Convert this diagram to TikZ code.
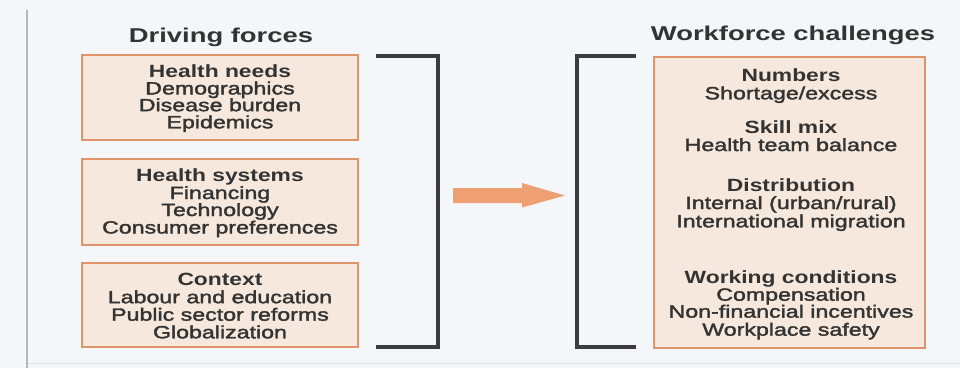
\documentclass[tikz,border=0pt]{standalone}
\usepackage{fontspec}
\usetikzlibrary{calc}
\setmainfont{Liberation Sans}[FakeStretch=1.29]
\newfontfamily\itemfont{Liberation Sans}[FakeStretch=1.31, FakeBold=2]
\newfontfamily\titlefont{Liberation Sans}[FakeStretch=1.37]
\definecolor{bg}{HTML}{F4F7FA}
\definecolor{boxfill}{HTML}{F6E8DC}
\definecolor{boxedge}{HTML}{E0946A}
\definecolor{arrowfill}{HTML}{EEA072}
\definecolor{brkcol}{HTML}{3A3C40}
\definecolor{ink}{HTML}{333333}
\definecolor{faint}{HTML}{B4B8BD}
\definecolor{fainter}{HTML}{DDE1E5}
\tikzset{
  fbox/.style={draw=boxedge, fill=boxfill, line width=2.6pt, inner sep=0pt},
  hd/.style={anchor=base, inner sep=0pt, font=\bfseries\fontsize{17.7}{18}\selectfont, text=ink},
  itm/.style={anchor=base, inner sep=0pt, font=\itemfont\fontsize{17.7}{18}\selectfont, text=ink},
  ttl/.style={anchor=base, inner sep=0pt, font=\titlefont\bfseries\fontsize{20}{22}\selectfont, text=ink},
  brk/.style={draw=brkcol, line width=4pt},
}
\begin{document}
\begin{tikzpicture}[x=1pt,y=-1pt]
\useasboundingbox (0,0) rectangle (960,368);
\fill[bg] (0,0) rectangle (960,368);
% faint scan edges
\coordinate (e1) at (27,10);
\coordinate (e2) at (27,368);
\coordinate (e0) at (27,363);
\coordinate (e3) at (960,363);
\draw[fainter, line width=1pt] (e0) -- (e3);
\draw[faint, line width=1.2pt] (e1) -- (e2);

% titles
\node[ttl] (t1) at (221,42) {Driving forces};
\node[ttl] (t2) at (793,40) {Workforce challenges};

% left boxes
\node[fbox, minimum width=276pt, minimum height=85pt] (b1) at (220,97.5) {};
\node[fbox, minimum width=276pt, minimum height=86pt] (b2) at (220,202) {};
\node[fbox, minimum width=276pt, minimum height=84pt] (b3) at (220,305) {};
% right box
\node[fbox, minimum width=271pt, minimum height=291pt] (b4) at (789.5,202.5) {};

% box 1 text
\node[hd]  (b1a) at (220,77.6) {Health needs};
\node[itm] (b1b) at (220,94.4) {Demographics};
\node[itm] (b1c) at (220,111.2) {Disease burden};
\node[itm] (b1d) at (220,128.3) {Epidemics};
% box 2 text
\node[hd]  (b2a) at (220,181.5) {Health systems};
\node[itm] (b2b) at (220,199) {Financing};
\node[itm] (b2c) at (220,216) {Technology};
\node[itm] (b2d) at (220,233.5) {Consumer preferences};
% box 3 text
\node[hd]  (b3a) at (220,285.5) {Context};
\node[itm] (b3b) at (220,303.2) {Labour and education};
\node[itm] (b3c) at (220,320.7) {Public sector reforms};
\node[itm] (b3d) at (220,338.3) {Globalization};
% right box text
\node[hd]  (r1) at (791,81.7) {Numbers};
\node[itm] (r2) at (791,99.3) {Shortage/excess};
\node[hd]  (r3) at (791,133.3) {Skill mix};
\node[itm] (r4) at (791,151) {Health team balance};
\node[hd]  (r5) at (791,191.5) {Distribution};
\node[itm] (r6) at (791,209) {Internal (urban/rural)};
\node[itm] (r7) at (791,227.3) {International migration};
\node[hd]  (r8) at (791,283.3) {Working conditions};
\node[itm] (r9) at (791,300.7) {Compensation};
\node[itm] (r10) at (791,317.6) {Non-financial incentives};
\node[itm] (r11) at (791,335.7) {Workplace safety};

% brackets
\coordinate (L1) at (376,56);
\coordinate (L2) at (438,56);
\coordinate (L3) at (438,347);
\coordinate (L4) at (376,347);
\draw[brk] (L1) -- (L2) -- (L3) -- (L4);
\coordinate (R1) at (636,56);
\coordinate (R2) at (577,56);
\coordinate (R3) at (577,347);
\coordinate (R4) at (636,347);
\draw[brk] (R1) -- (R2) -- (R3) -- (R4);

% arrow
\coordinate (as) at (453,195.5);
\coordinate (ae) at (565,195.5);
\fill[arrowfill] ($(as)+(0,-7.5)$) -- ++(69,0) -- ++(0,-5) -- (ae) -- ++(-43,12) -- ++(0,-4.5) -- ($(as)+(0,7.5)$) -- cycle;
\end{tikzpicture}
\end{document}
